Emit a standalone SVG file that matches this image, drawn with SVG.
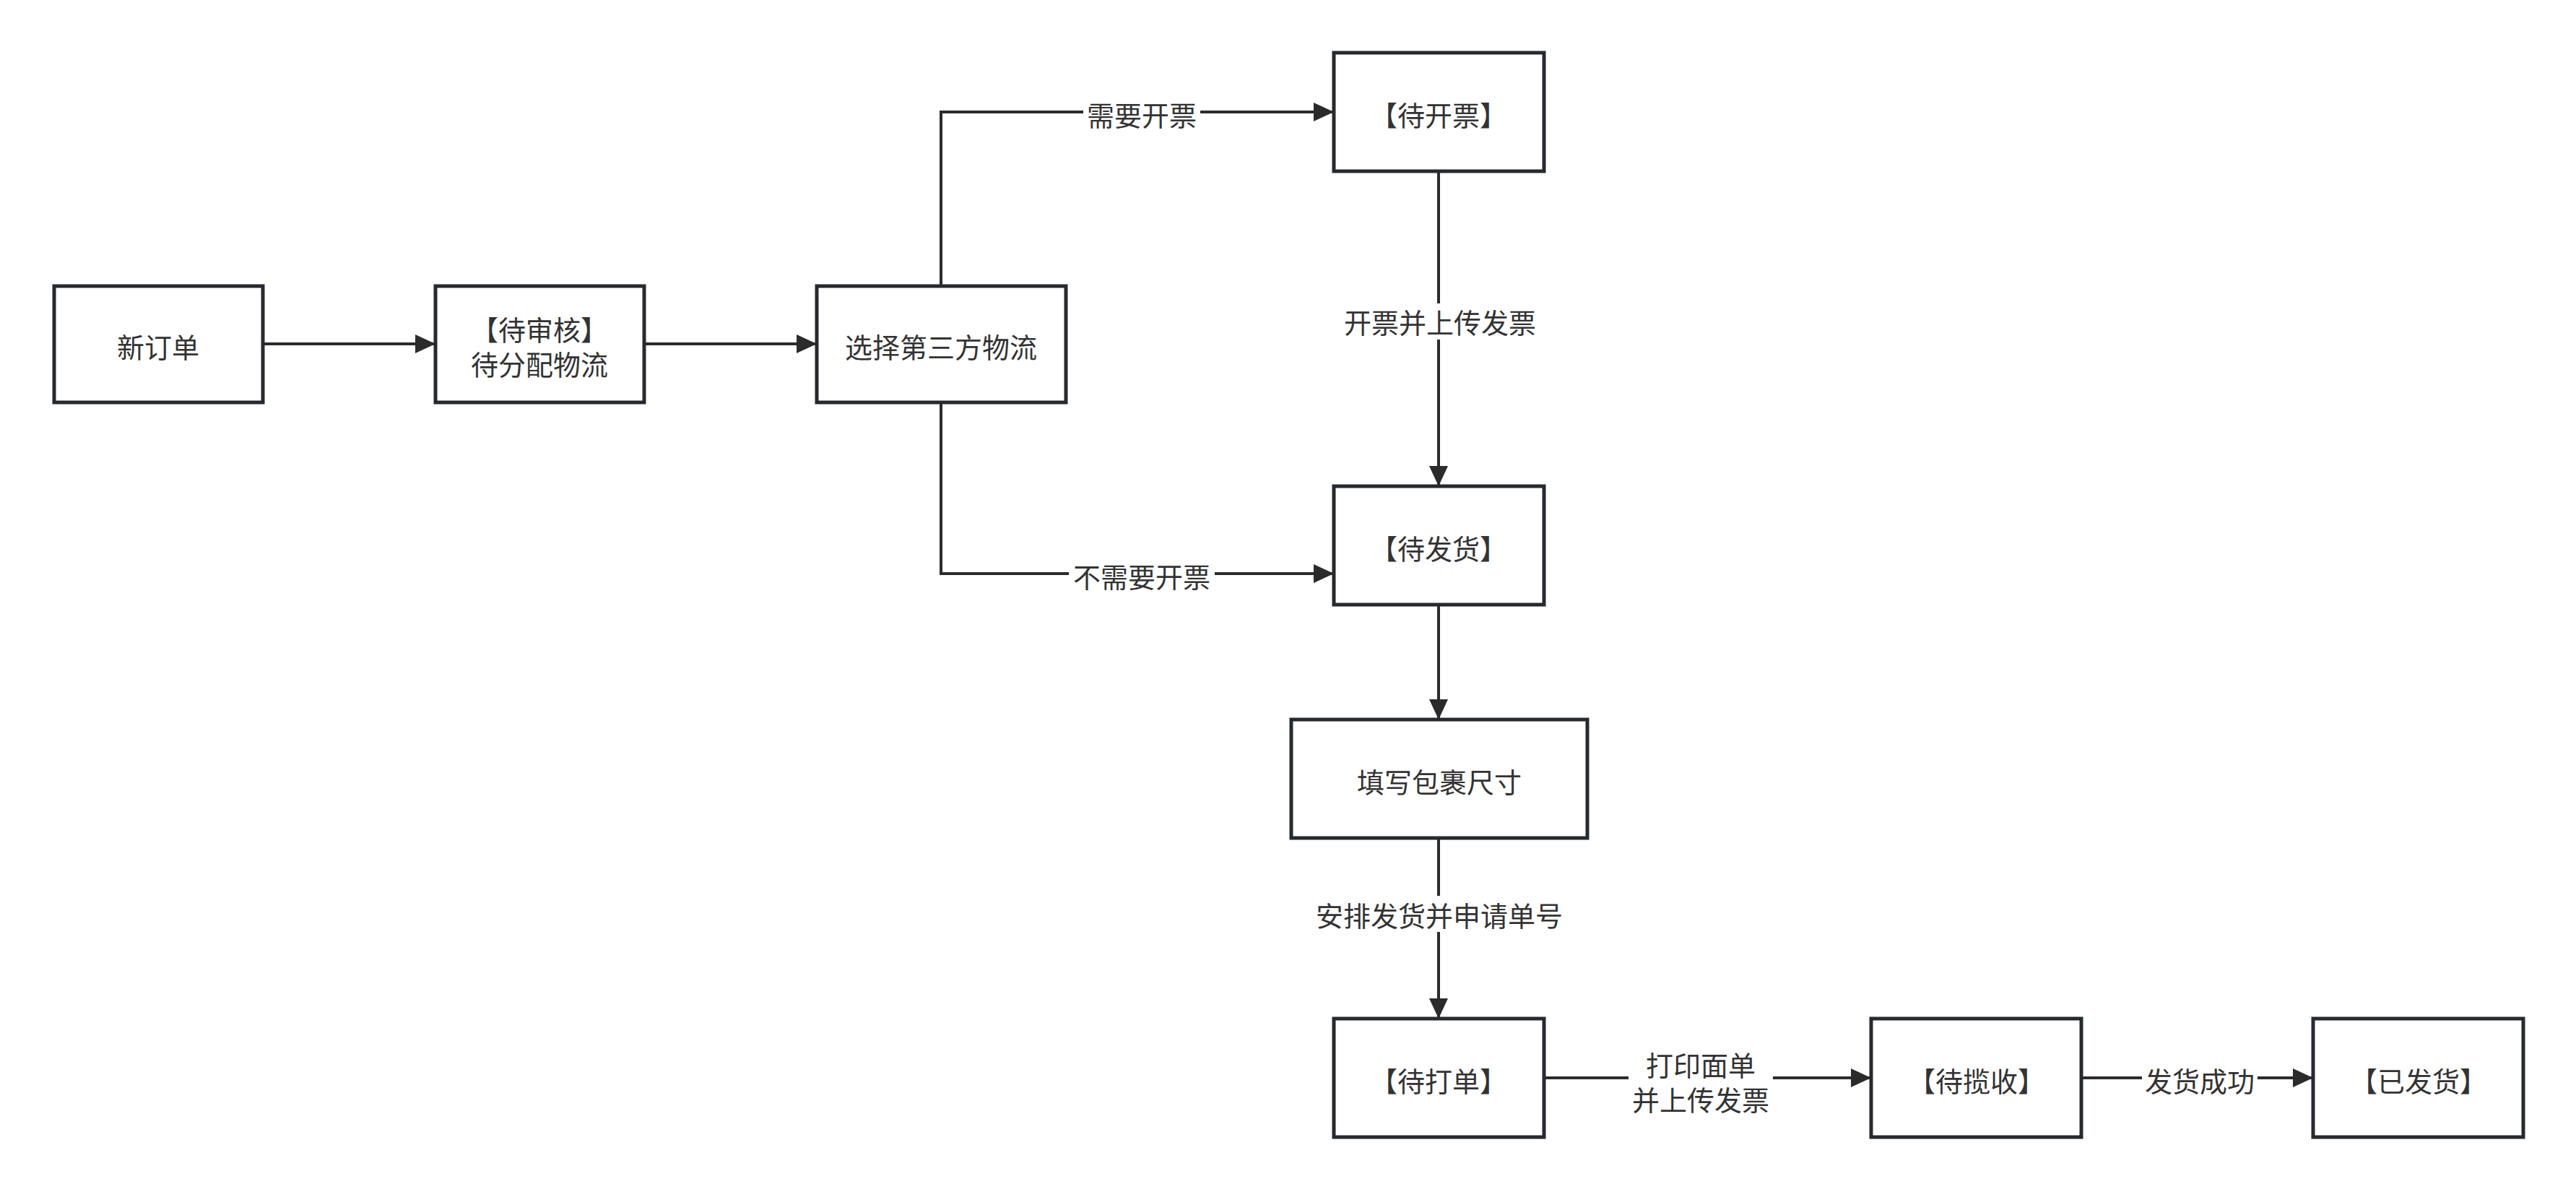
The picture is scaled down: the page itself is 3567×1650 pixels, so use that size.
<svg xmlns="http://www.w3.org/2000/svg" width="3567" height="1650" viewBox="0 0 3567 1650">
<style>
.box{fill:#ffffff;stroke:#262a2e;stroke-width:5}
.t{font-family:"Noto Sans CJK SC","Noto Sans",sans-serif;font-size:38px;fill:#333333;text-anchor:middle;dominant-baseline:central}
.e{fill:none;stroke:#2b2b2b;stroke-width:4}
.lb{fill:#ffffff}
</style>
<defs>
<marker id="arr" markerUnits="userSpaceOnUse" markerWidth="30" markerHeight="26" refX="28" refY="13" orient="auto">
<path d="M0,0 L28,13 L0,26 Z" fill="#2b2b2b"/>
</marker>
</defs>
<rect width="3567" height="1650" fill="#ffffff"/>
<g id="connectors">
<path class="e" d="M364,476 H603" marker-end="url(#arr)"/>
<path class="e" d="M892,476 H1131" marker-end="url(#arr)"/>
<path class="e" d="M1303,396 V155 H1847" marker-end="url(#arr)"/>
<path class="e" d="M1303,557 V794 H1847" marker-end="url(#arr)"/>
<path class="e" d="M1992,237 V673" marker-end="url(#arr)"/>
<path class="e" d="M1992,837 V996" marker-end="url(#arr)"/>
<path class="e" d="M1992,1160 V1410" marker-end="url(#arr)"/>
<path class="e" d="M2138,1492 H2591" marker-end="url(#arr)"/>
<path class="e" d="M2882,1492 H3203" marker-end="url(#arr)"/>
<rect class="lb" x="1500" y="132" width="162" height="46"/>
<text class="t" x="1581" y="157">需要开票</text>
<rect class="lb" x="1480" y="771" width="202" height="46"/>
<text class="t" x="1581" y="796">不需要开票</text>
<rect class="lb" x="1850" y="420" width="284" height="50"/>
<text class="t" x="1994" y="444">开票并上传发票</text>
<rect class="lb" x="1810" y="1240" width="364" height="50"/>
<text class="t" x="1993" y="1265">安排发货并申请单号</text>
<rect class="lb" x="2255" y="1448" width="200" height="96"/>
<text class="t" x="2355" y="1472">打印面单</text>
<text class="t" x="2355" y="1520">并上传发票</text>
<rect class="lb" x="2966" y="1469" width="160" height="46"/>
<text class="t" x="3046" y="1494">发货成功</text>
</g>
<g id="n1"><rect class="box" x="75" y="396" width="289" height="161"/><text class="t" x="219" y="478">新订单</text></g>
<g id="n2"><rect class="box" x="603" y="396" width="289" height="161"/><text class="t" x="747" y="454">【待审核】</text><text class="t" x="747" y="502">待分配物流</text></g>
<g id="n3"><rect class="box" x="1131" y="396" width="345" height="161"/><text class="t" x="1303" y="478">选择第三方物流</text></g>
<g id="n4"><rect class="box" x="1847" y="73" width="291" height="164"/><text class="t" x="1992" y="157">【待开票】</text></g>
<g id="n5"><rect class="box" x="1847" y="673" width="291" height="164"/><text class="t" x="1992" y="757">【待发货】</text></g>
<g id="n6"><rect class="box" x="1788" y="996" width="410" height="164"/><text class="t" x="1993" y="1080">填写包裹尺寸</text></g>
<g id="n7"><rect class="box" x="1847" y="1410" width="291" height="164"/><text class="t" x="1992" y="1494">【待打单】</text></g>
<g id="n8"><rect class="box" x="2591" y="1410" width="291" height="164"/><text class="t" x="2737" y="1494">【待揽收】</text></g>
<g id="n9"><rect class="box" x="3203" y="1410" width="291" height="164"/><text class="t" x="3349" y="1494">【已发货】</text></g>
</svg>
